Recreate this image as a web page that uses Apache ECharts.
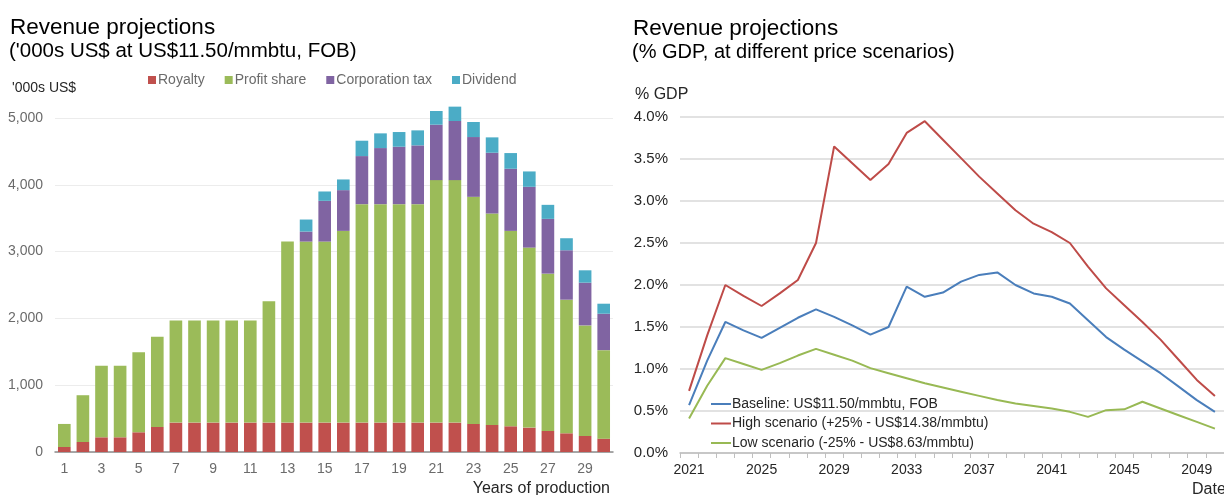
<!DOCTYPE html>
<html>
<head>
<meta charset="utf-8">
<script src="https://cdn.jsdelivr.net/npm/echarts@6/dist/echarts.min.js"></script>
<style>
  html, body { margin: 0; padding: 0; background: #fff; }
  #chart { width: 1224px; height: 495px; }
</style>
</head>
<body>
<div id="chart"></div>
<script>
// left chart: years of production 1..30
const years = Array.from({ length: 30 }, (_, i) => String(i + 1))
const royalty = [75, 150, 220, 220, 295, 375, 440, 440, 440, 440, 440, 440, 440, 440, 440,
  440, 440, 440, 440, 440, 440, 440, 420, 405, 385, 365, 315, 280, 240, 200]
const profitShare = [345, 700, 1070, 1070, 1200, 1350, 1530, 1530, 1530, 1530, 1530, 1815, 2710, 2710, 2710,
  2870, 3270, 3270, 3270, 3270, 3630, 3630, 3400, 3165, 2925, 2695, 2355, 2000, 1655, 1325]
const corporationTax = [0, 0, 0, 0, 0, 0, 0, 0, 0, 0, 0, 0, 0, 150, 610,
  610, 720, 840, 860, 880, 830, 885, 895, 910, 930, 910, 820, 740, 640, 545]
const dividend = [0, 0, 0, 0, 0, 0, 0, 0, 0, 0, 0, 0, 0, 180, 140,
  160, 230, 220, 220, 225, 205, 215, 225, 230, 235, 230, 210, 180, 185, 150]

// right chart: % of GDP by year
const dates = Array.from({ length: 30 }, (_, i) => String(2021 + i))
const baseline = [0.57, 1.1, 1.56, 1.46, 1.37, 1.49, 1.61, 1.71, 1.62, 1.52, 1.41, 1.5, 1.98, 1.86, 1.91,
  2.04, 2.12, 2.15, 2.0, 1.9, 1.86, 1.78, 1.58, 1.38, 1.23, 1.09, 0.95, 0.79, 0.63, 0.49]
const high = [0.74, 1.4, 2.0, 1.87, 1.75, 1.9, 2.06, 2.5, 3.65, 3.45, 3.25, 3.44, 3.81, 3.95, 3.73,
  3.51, 3.29, 3.09, 2.89, 2.73, 2.63, 2.5, 2.22, 1.96, 1.76, 1.56, 1.35, 1.11, 0.87, 0.68]
const low = [0.41, 0.8, 1.13, 1.06, 0.99, 1.07, 1.16, 1.24, 1.17, 1.1, 1.01, 0.95, 0.89, 0.83, 0.78,
  0.73, 0.68, 0.63, 0.59, 0.56, 0.53, 0.49, 0.43, 0.51, 0.52, 0.61, 0.53, 0.45, 0.37, 0.29]

const font = 'Liberation Sans, Arial, sans-serif'
const grey = '#6b6b6b'
const dark = '#262626'

const instance = echarts.init(document.getElementById('chart'))

const barSeries = (name, data, color) => ({
  name,
  type: 'bar',
  stack: 'rev',
  data,
  xAxisIndex: 0,
  yAxisIndex: 0,
  barCategoryGap: '32%',
  clip: false,
  itemStyle: { color },
})

const lineSeries = (name, data, color) => ({
  name,
  type: 'line',
  data,
  xAxisIndex: 1,
  yAxisIndex: 1,
  symbol: 'none',
  lineStyle: { color, width: 2 },
  itemStyle: { color },
})

const label = (text, pos, size, color) => ({
  text,
  padding: 0,
  ...pos,
  textStyle: { fontSize: size, fontWeight: 'normal', color, fontFamily: font },
})

const option = {
  animation: false,
  textStyle: { fontFamily: font },
  title: [
    label('Revenue projections', { left: 10, top: 16 }, 22.5, '#000'),
    label("('000s US$ at US$11.50/mmbtu, FOB)", { left: 9, top: 41 }, 20.5, '#000'),
    label("'000s US$", { left: 12, top: 81 }, 14, dark),
    label('Years of production', { right: 614, top: 481 }, 16, dark),
    label('Revenue projections', { left: 633, top: 17 }, 22.5, '#000'),
    label('(% GDP, at different price scenarios)', { left: 632, top: 42 }, 20, '#000'),
    label('% GDP', { left: 635, top: 87 }, 16, dark),
    label('Date', { left: 1192, top: 482 }, 16, dark),
  ],
  legend: [
    {
      data: ['Royalty', 'Profit share', 'Corporation tax', 'Dividend'],
      left: 148,
      top: 73,
      padding: 0,
      icon: 'rect',
      itemWidth: 8,
      itemHeight: 8,
      itemGap: 20,
      textStyle: { fontSize: 14, color: grey, fontFamily: font, padding: [0, 0, 0, -3] },
    },
    {
      data: ['Baseline: US$11.50/mmbtu, FOB', 'High scenario (+25% - US$14.38/mmbtu)', 'Low scenario (-25% - US$8.63/mmbtu)'],
      orient: 'vertical',
      left: 711,
      top: 397,
      padding: 0,
      icon: 'rect',
      itemWidth: 20,
      itemHeight: 2,
      itemGap: 5.5,
      textStyle: { fontSize: 14, color: dark, fontFamily: font, padding: [0, 0, 0, -4] },
    },
  ],
  grid: [
    { left: 55, right: 611, top: 118, bottom: 43 },
    { left: 680, right: -6, top: 117, bottom: 42 },
  ],
  xAxis: [
    {
      gridIndex: 0,
      type: 'category',
      data: years,
      axisLine: { lineStyle: { color: '#8c8c8c', width: 1.5 } },
      axisTick: { show: false },
      axisLabel: { interval: 1, color: grey, fontSize: 14, margin: 10 },
    },
    {
      gridIndex: 1,
      type: 'category',
      data: dates,
      boundaryGap: true,
      axisLine: { lineStyle: { color: '#bfbfbf', width: 1.5 } },
      axisTick: { show: true, interval: 0, length: 5, lineStyle: { color: '#bfbfbf' } },
      axisLabel: { interval: 3, color: dark, fontSize: 14, margin: 10 },
    },
  ],
  yAxis: [
    {
      gridIndex: 0,
      type: 'value',
      min: 0,
      max: 5000,
      interval: 1000,
      axisLine: { show: false },
      axisTick: { show: false },
      axisLabel: {
        color: grey,
        fontSize: 14,
        margin: 12,
        formatter: (v) => v.toLocaleString('en-US'),
      },
      splitLine: { lineStyle: { color: '#ececec', width: 1 } },
    },
    {
      gridIndex: 1,
      type: 'value',
      min: 0,
      max: 4,
      interval: 0.5,
      axisLine: { show: false },
      axisTick: { show: false },
      axisLabel: {
        color: dark,
        fontSize: 15,
        margin: 12,
        formatter: (v) => v.toFixed(1) + '%',
      },
      splitLine: { lineStyle: { color: '#d9d9d9', width: 1.5 } },
    },
  ],
  series: [
    barSeries('Royalty', royalty, '#c0504d'),
    barSeries('Profit share', profitShare, '#9bbb59'),
    barSeries('Corporation tax', corporationTax, '#8064a2'),
    barSeries('Dividend', dividend, '#4bacc6'),
    lineSeries('Baseline: US$11.50/mmbtu, FOB', baseline, '#4a7ebb'),
    lineSeries('High scenario (+25% - US$14.38/mmbtu)', high, '#be4b48'),
    lineSeries('Low scenario (-25% - US$8.63/mmbtu)', low, '#98b954'),
  ],
}

instance.setOption(option)
</script>
</body>
</html>
